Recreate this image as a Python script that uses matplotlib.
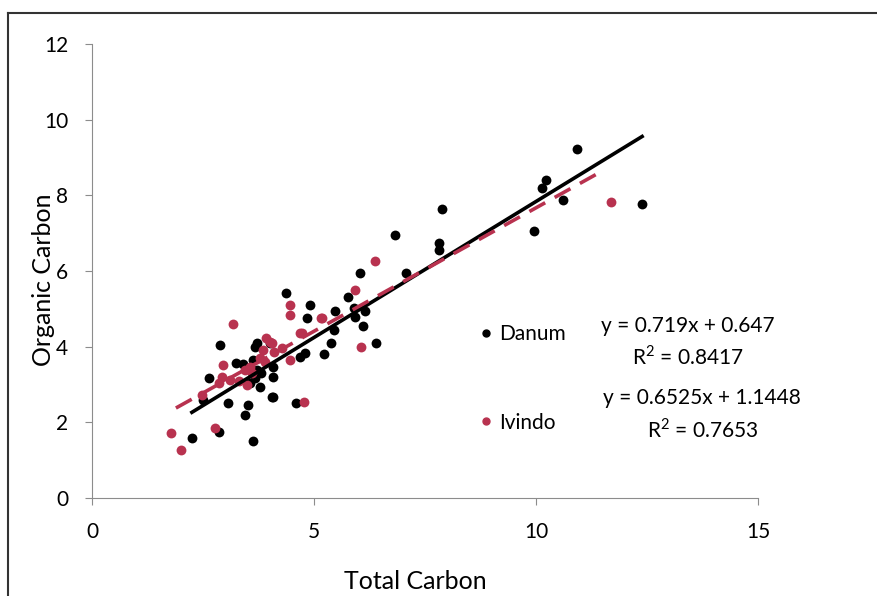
import numpy as np
import matplotlib.pyplot as plt
from matplotlib.lines import Line2D

# Danum samples (Total Carbon, Organic Carbon)
danum_x = [10.92, 10.22, 10.13, 10.60, 12.39, 9.96, 7.88, 7.82, 7.81, 6.82, 7.07,
           6.04, 5.77, 5.89, 6.15, 5.47, 4.91, 4.84, 5.44, 5.92, 6.10, 6.40, 5.38,
           5.23, 4.80, 4.68, 4.38, 4.08, 4.08, 4.08, 4.59, 2.88, 3.71, 4.01, 3.24,
           2.64, 3.71, 3.78, 3.67, 3.63, 3.67, 3.07, 3.52, 3.45, 4.05, 2.50, 2.25,
           2.87, 3.62, 3.56, 3.80, 3.40]
danum_y = [9.22, 8.41, 8.20, 7.88, 7.76, 7.07, 7.64, 6.75, 6.56, 6.94, 5.94,
           5.96, 5.32, 5.01, 4.93, 4.93, 5.10, 4.75, 4.44, 4.79, 4.55, 4.09, 4.09,
           3.81, 3.82, 3.73, 5.43, 3.47, 3.21, 2.66, 2.52, 4.04, 4.09, 4.09, 3.58,
           3.16, 3.38, 2.94, 3.16, 3.65, 4.00, 2.52, 2.46, 2.19, 2.68, 2.59, 1.58,
           1.75, 1.51, 3.05, 3.30, 3.55]

# Ivindo samples
ivindo_x = [11.70, 6.38, 5.92, 5.16, 4.68, 4.46, 4.46, 5.17, 4.72, 6.06, 4.46,
            4.27, 4.01, 4.78, 3.18, 3.93, 4.05, 2.96, 2.92, 3.11, 2.85, 3.56,
            3.45, 3.48, 3.78, 3.86, 2.47, 1.79, 2.77, 2.00, 3.60, 3.90, 4.10, 3.30]
ivindo_y = [7.83, 6.26, 5.50, 4.75, 4.35, 5.10, 4.84, 4.75, 4.35, 4.00, 3.65,
            3.96, 4.13, 2.55, 4.59, 4.22, 4.09, 3.52, 3.19, 3.12, 3.03, 3.47,
            3.38, 2.99, 3.69, 3.91, 2.72, 1.73, 1.84, 1.27, 3.30, 3.60, 3.85, 3.10]

# trendline coefficients
danum_fit = (0.719, 0.647, 0.8417)
ivindo_fit = (0.6525, 1.1448, 0.7653)

red = '#b8324f'
font = 'Lato'
plt.rcParams['mathtext.fontset'] = 'custom'
plt.rcParams['mathtext.rm'] = font

fig = plt.figure(figsize=(8.78, 5.96), dpi=100)
ax = fig.add_axes([92 / 878, 1 - 498 / 596, 666 / 878, 454 / 596])

ax.scatter(danum_x, danum_y, s=50, color='black', linewidths=0, zorder=3)
ax.scatter(ivindo_x, ivindo_y, s=50, color=red, linewidths=0, zorder=3)

xd = np.array([min(danum_x), max(danum_x)])
ax.plot(xd, danum_fit[0] * xd + danum_fit[1], color='black', lw=2.6, zorder=4)
xi = np.array([min(ivindo_x) + 0.1, max(ivindo_x) - 0.2])
ax.plot(xi, ivindo_fit[0] * xi + ivindo_fit[1], color=red, lw=2.6,
        dashes=(5, 3), zorder=4)

ax.set_xlim(0, 15)
ax.set_ylim(0, 12)
ax.set_xticks([0, 5, 10, 15])
ax.set_yticks(range(0, 13, 2))
for s in ['top', 'right']:
    ax.spines[s].set_visible(False)
for s in ['left', 'bottom']:
    ax.spines[s].set_color('#8c8c8c')
ax.tick_params(direction='out', length=5, color='#8c8c8c', labelsize=15,
               pad=12)
for lab in ax.get_xticklabels() + ax.get_yticklabels():
    lab.set_fontfamily(font)

ax.set_xlabel('Total Carbon', fontsize=18, family=font)
ax.set_ylabel('Organic Carbon', fontsize=18, family=font)
ax.xaxis.set_label_coords(0.485, -0.159)
ax.yaxis.set_label_coords(-0.056, 0.48)

handles = [Line2D([], [], ls='', marker='o', ms=5, color='black'),
           Line2D([], [], ls='', marker='o', ms=5, color=red)]
ax.legend(handles, ['Danum', 'Ivindo'], loc='upper left',
          bbox_to_anchor=(0.548, 0.425), frameon=False, labelspacing=3.3,
          handletextpad=0.1, handlelength=1.0,
          prop={'family': font, 'size': 15})

txt = dict(transform=ax.transAxes, ha='center', va='center', fontsize=15,
           family=font, clip_on=False)
ax.text(0.895, 0.379, 'y = %.3fx + %.3f' % danum_fit[:2], **txt)
ax.text(0.894, 0.311, r'R$^{\mathrm{2}}$ = %.4f' % danum_fit[2], **txt)
ax.text(0.916, 0.220, 'y = %.4fx + %.4f' % ivindo_fit[:2], **txt)
ax.text(0.917, 0.150, r'R$^{\mathrm{2}}$ = %.4f' % ivindo_fit[2], **txt)

# outer chart border
fig.add_artist(Line2D([8 / 878, 8 / 878], [0, 1 - 13 / 596], color='#333333',
                      lw=1.5, transform=fig.transFigure))
fig.add_artist(Line2D([8 / 878, 1], [1 - 13 / 596, 1 - 13 / 596],
                      color='#333333', lw=1.5, transform=fig.transFigure))

fig.savefig('out.png', dpi=100)
